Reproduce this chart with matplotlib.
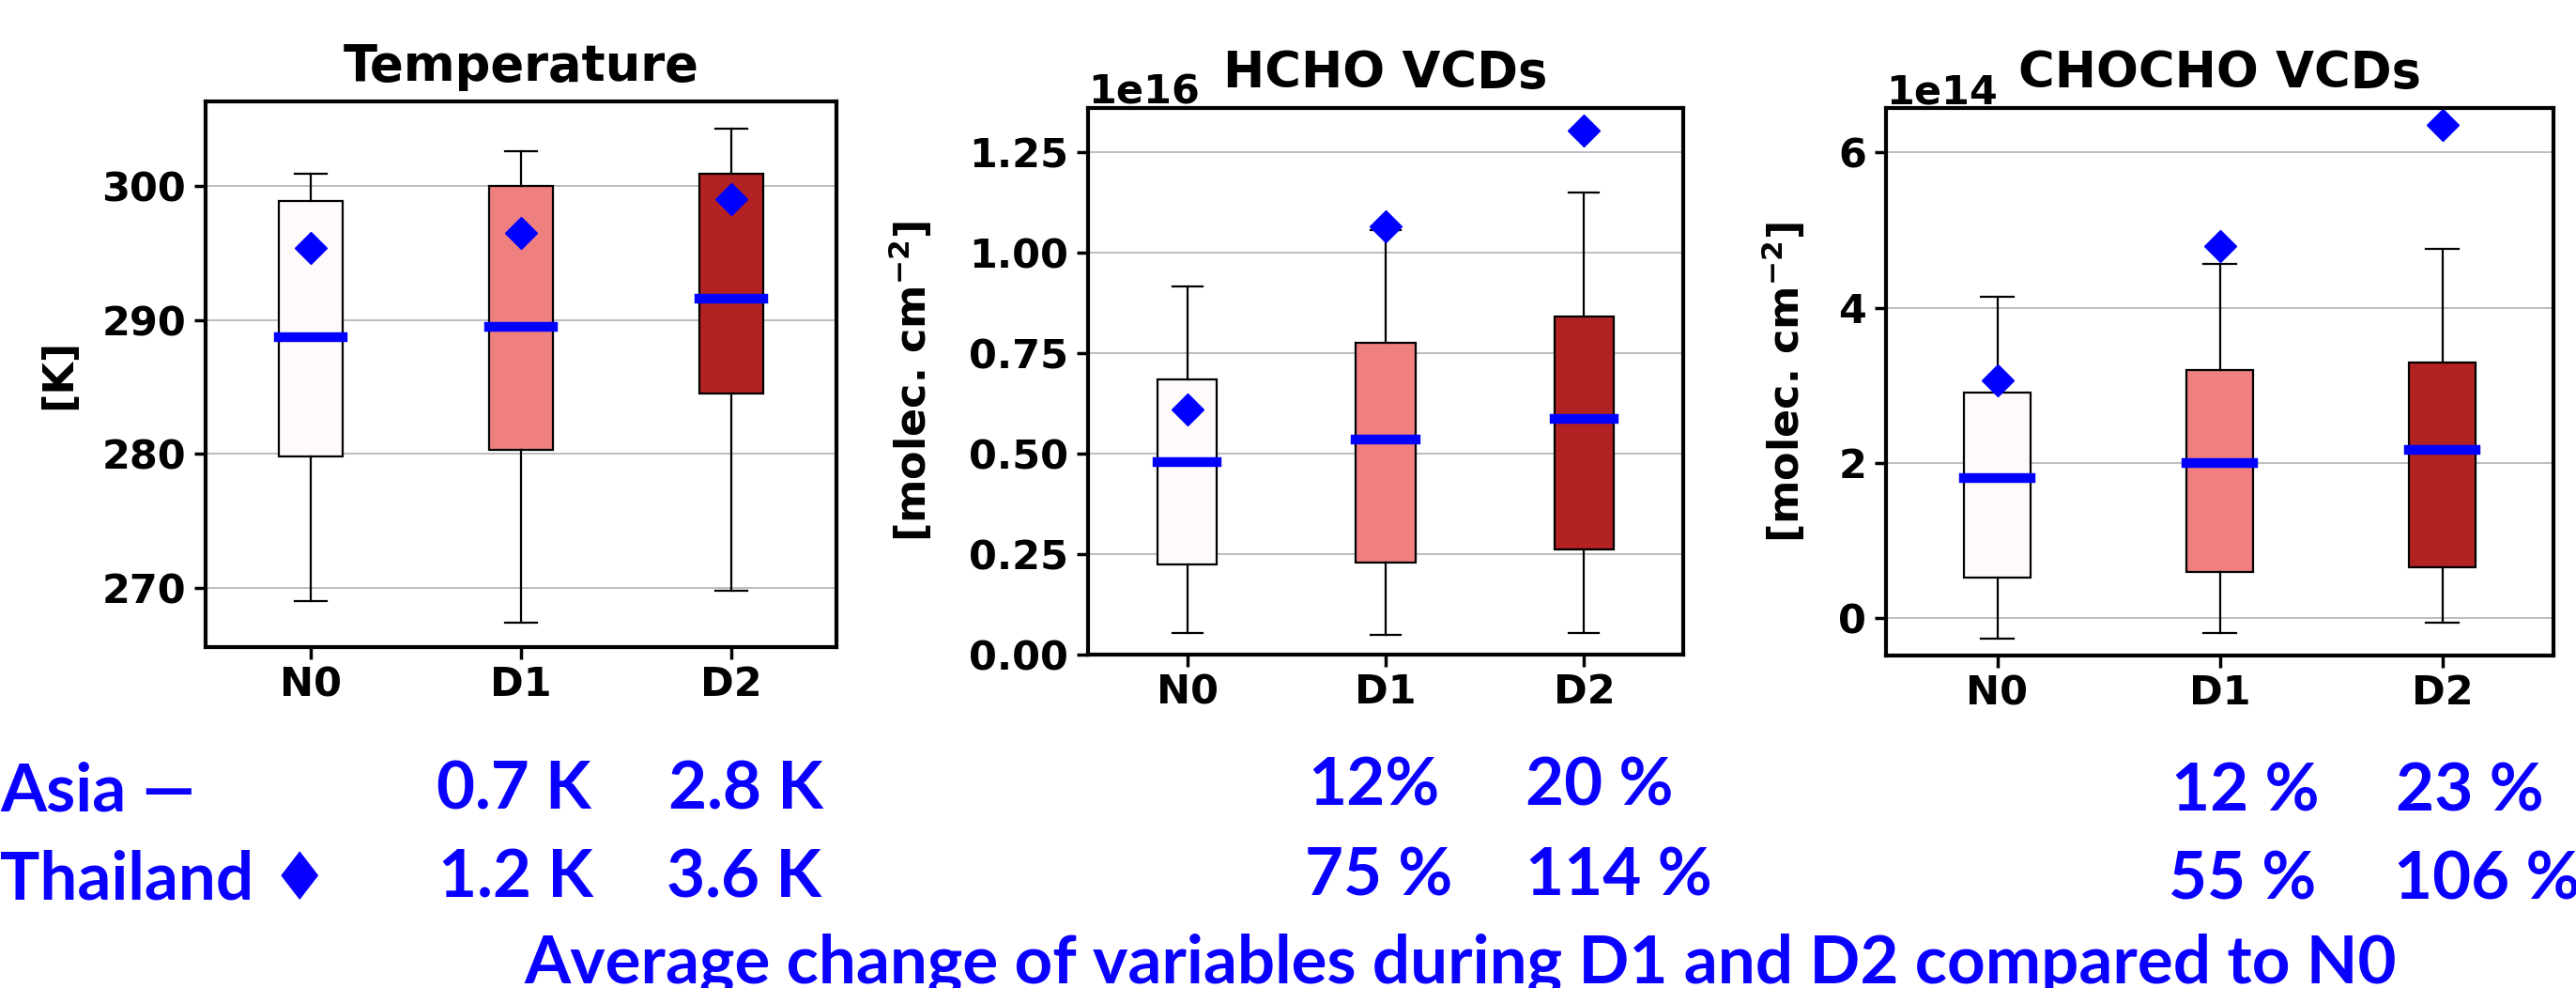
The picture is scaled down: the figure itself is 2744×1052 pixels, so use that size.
"""Box plots of temperature, HCHO and CHOCHO VCDs for N0 / D1 / D2 periods,
with the average-change table written underneath."""

import matplotlib

matplotlib.use("Agg")
import matplotlib.pyplot as plt
import numpy as np

W, H, DPI = 2744, 1052, 100

PERIODS = ["N0", "D1", "D2"]
BOX_COLORS = ["#fffafa", "#f08080", "#b22222"]

# Temperature [K] -- box stats (Asia) and Thailand mean (diamond)
TEMP_WHISLO = [269.0, 267.4, 269.8]
TEMP_Q1 = [279.8, 280.3, 284.5]
TEMP_MED = [288.7, 289.5, 291.6]
TEMP_Q3 = [298.9, 300.0, 300.9]
TEMP_WHISHI = [300.9, 302.6, 304.3]
TEMP_THAI = [295.4, 296.5, 299.0]

# HCHO VCDs [1e16 molec. cm-2]
HCHO_WHISLO = [0.054, 0.049, 0.054]
HCHO_Q1 = [0.224, 0.230, 0.261]
HCHO_MED = [0.479, 0.534, 0.586]
HCHO_Q3 = [0.684, 0.776, 0.840]
HCHO_WHISHI = [0.915, 1.055, 1.148]
HCHO_THAI = [0.609, 1.064, 1.304]

# CHOCHO VCDs [1e14 molec. cm-2]
CHOCHO_WHISLO = [-0.264, -0.194, -0.065]
CHOCHO_Q1 = [0.522, 0.592, 0.657]
CHOCHO_MED = [1.806, 2.000, 2.164]
CHOCHO_Q3 = [2.90, 3.19, 3.29]
CHOCHO_WHISHI = [4.135, 4.57, 4.757]
CHOCHO_THAI = [3.067, 4.79, 6.36]

# average change D1, D2 vs N0
TEMP_CHANGE_ASIA = ["0.7 K", "2.8 K"]
TEMP_CHANGE_THAI = ["1.2 K", "3.6 K"]
HCHO_CHANGE_ASIA = ["12%", "20 %"]
HCHO_CHANGE_THAI = ["75 %", "114 %"]
CHOCHO_CHANGE_ASIA = ["12 %", "23 %"]
CHOCHO_CHANGE_THAI = ["55 %", "106 %"]

plt.rcParams.update({
    "font.family": "DejaVu Sans",
    "font.weight": "bold",
    "axes.titleweight": "bold",
    "axes.labelweight": "bold",
    "axes.linewidth": 3,
    "xtick.labelsize": 31,
    "ytick.labelsize": 31,
    "axes.labelsize": 32,
    "axes.titlesize": 38,
    "xtick.major.size": 9,
    "ytick.major.size": 9,
    "xtick.major.width": 2.5,
    "ytick.major.width": 2.5,
    "xtick.major.pad": 5,
    "ytick.major.pad": 6,
})


def draw_panel(ax, lo, q1, med, q3, hi, thai, scale, title, ylabel,
               ylim, yticks, label_x):
    stats = []
    for i, name in enumerate(PERIODS):
        stats.append(dict(
            whislo=lo[i] * scale, q1=q1[i] * scale, med=med[i] * scale,
            q3=q3[i] * scale, whishi=hi[i] * scale, mean=thai[i] * scale,
            fliers=[], label=name,
        ))
    bp = ax.bxp(
        stats, positions=[1, 2, 3], widths=0.3, patch_artist=True,
        showmeans=True, showfliers=False,
        boxprops=dict(edgecolor="black", linewidth=1.6),
        whiskerprops=dict(color="black", linewidth=1.6),
        capprops=dict(color="black", linewidth=1.6),
        medianprops=dict(color="blue", linewidth=7.5,
                         solid_capstyle="projecting"),
        meanprops=dict(marker="D", markerfacecolor="blue",
                       markeredgecolor="blue", markersize=17),
    )
    for patch, c in zip(bp["boxes"], BOX_COLORS):
        patch.set_facecolor(c)

    ax.set_xlim(0.5, 3.5)
    ax.set_ylim(ylim[0] * scale, ylim[1] * scale)
    ax.set_yticks(np.array(yticks) * scale)
    ax.grid(axis="y", color="0.72", linewidth=1.3)
    ax.set_title(title, y=1.0, pad=16)
    ax.set_ylabel(ylabel)
    ax.yaxis.set_label_coords(label_x, 0.5)
    ax.yaxis.offsetText.set_fontweight("bold")
    ax.yaxis.offsetText.set_fontsize(31)


fig = plt.figure(figsize=(W / DPI, H / DPI), dpi=DPI)


def axes_px(left, right, top, bottom):
    return fig.add_axes([left / W, 1 - bottom / H,
                         (right - left) / W, (bottom - top) / H])


ax1 = axes_px(219, 891, 108, 689)
ax2 = axes_px(1159, 1793, 115, 697)
ax3 = axes_px(2009, 2720, 115, 698)

draw_panel(ax1, TEMP_WHISLO, TEMP_Q1, TEMP_MED, TEMP_Q3, TEMP_WHISHI,
           TEMP_THAI, 1.0, "Temperature", "[K]", (265.6, 306.3),
           [270, 280, 290, 300], -0.2)
draw_panel(ax2, HCHO_WHISLO, HCHO_Q1, HCHO_MED, HCHO_Q3, HCHO_WHISHI,
           HCHO_THAI, 1e16, "HCHO VCDs", r"[molec. cm$^{-2}$]", (0.0, 1.359),
           [0, 0.25, 0.5, 0.75, 1.0, 1.25], -0.257)
draw_panel(ax3, CHOCHO_WHISLO, CHOCHO_Q1, CHOCHO_MED, CHOCHO_Q3,
           CHOCHO_WHISHI, CHOCHO_THAI, 1e14, "CHOCHO VCDs",
           r"[molec. cm$^{-2}$]", (-0.487, 6.575), [0, 2, 4, 6], -0.117)

# table of average changes underneath
TXT = dict(family=["Lato", "DejaVu Sans"], weight="bold", size=51,
           color="#0a00ff", ha="left", va="baseline")


def put(x, y, s, **kw):
    opts = dict(TXT)
    opts.update(kw)
    fig.text(x / W, 1 - y / H, s, **opts)


put(0, 863, "Asia \u2014")
put(0, 957, "Thailand \u2666")

put(465, 862, TEMP_CHANGE_ASIA[0])
put(712, 862, TEMP_CHANGE_ASIA[1])
put(467, 955, TEMP_CHANGE_THAI[0])
put(710, 955, TEMP_CHANGE_THAI[1])

put(1393, 858, HCHO_CHANGE_ASIA[0])
put(1625, 857, HCHO_CHANGE_ASIA[1])
put(1390, 953, HCHO_CHANGE_THAI[0])
put(1625, 953, HCHO_CHANGE_THAI[1])

put(2313, 863, CHOCHO_CHANGE_ASIA[0])
put(2552, 863, CHOCHO_CHANGE_ASIA[1])
put(2310, 957, CHOCHO_CHANGE_THAI[0])
put(2550, 957, CHOCHO_CHANGE_THAI[1])

put(1556, 1047, "Average change of variables during D1 and D2 compared to N0",
    ha="center")

fig.savefig("out.png", dpi=DPI)
